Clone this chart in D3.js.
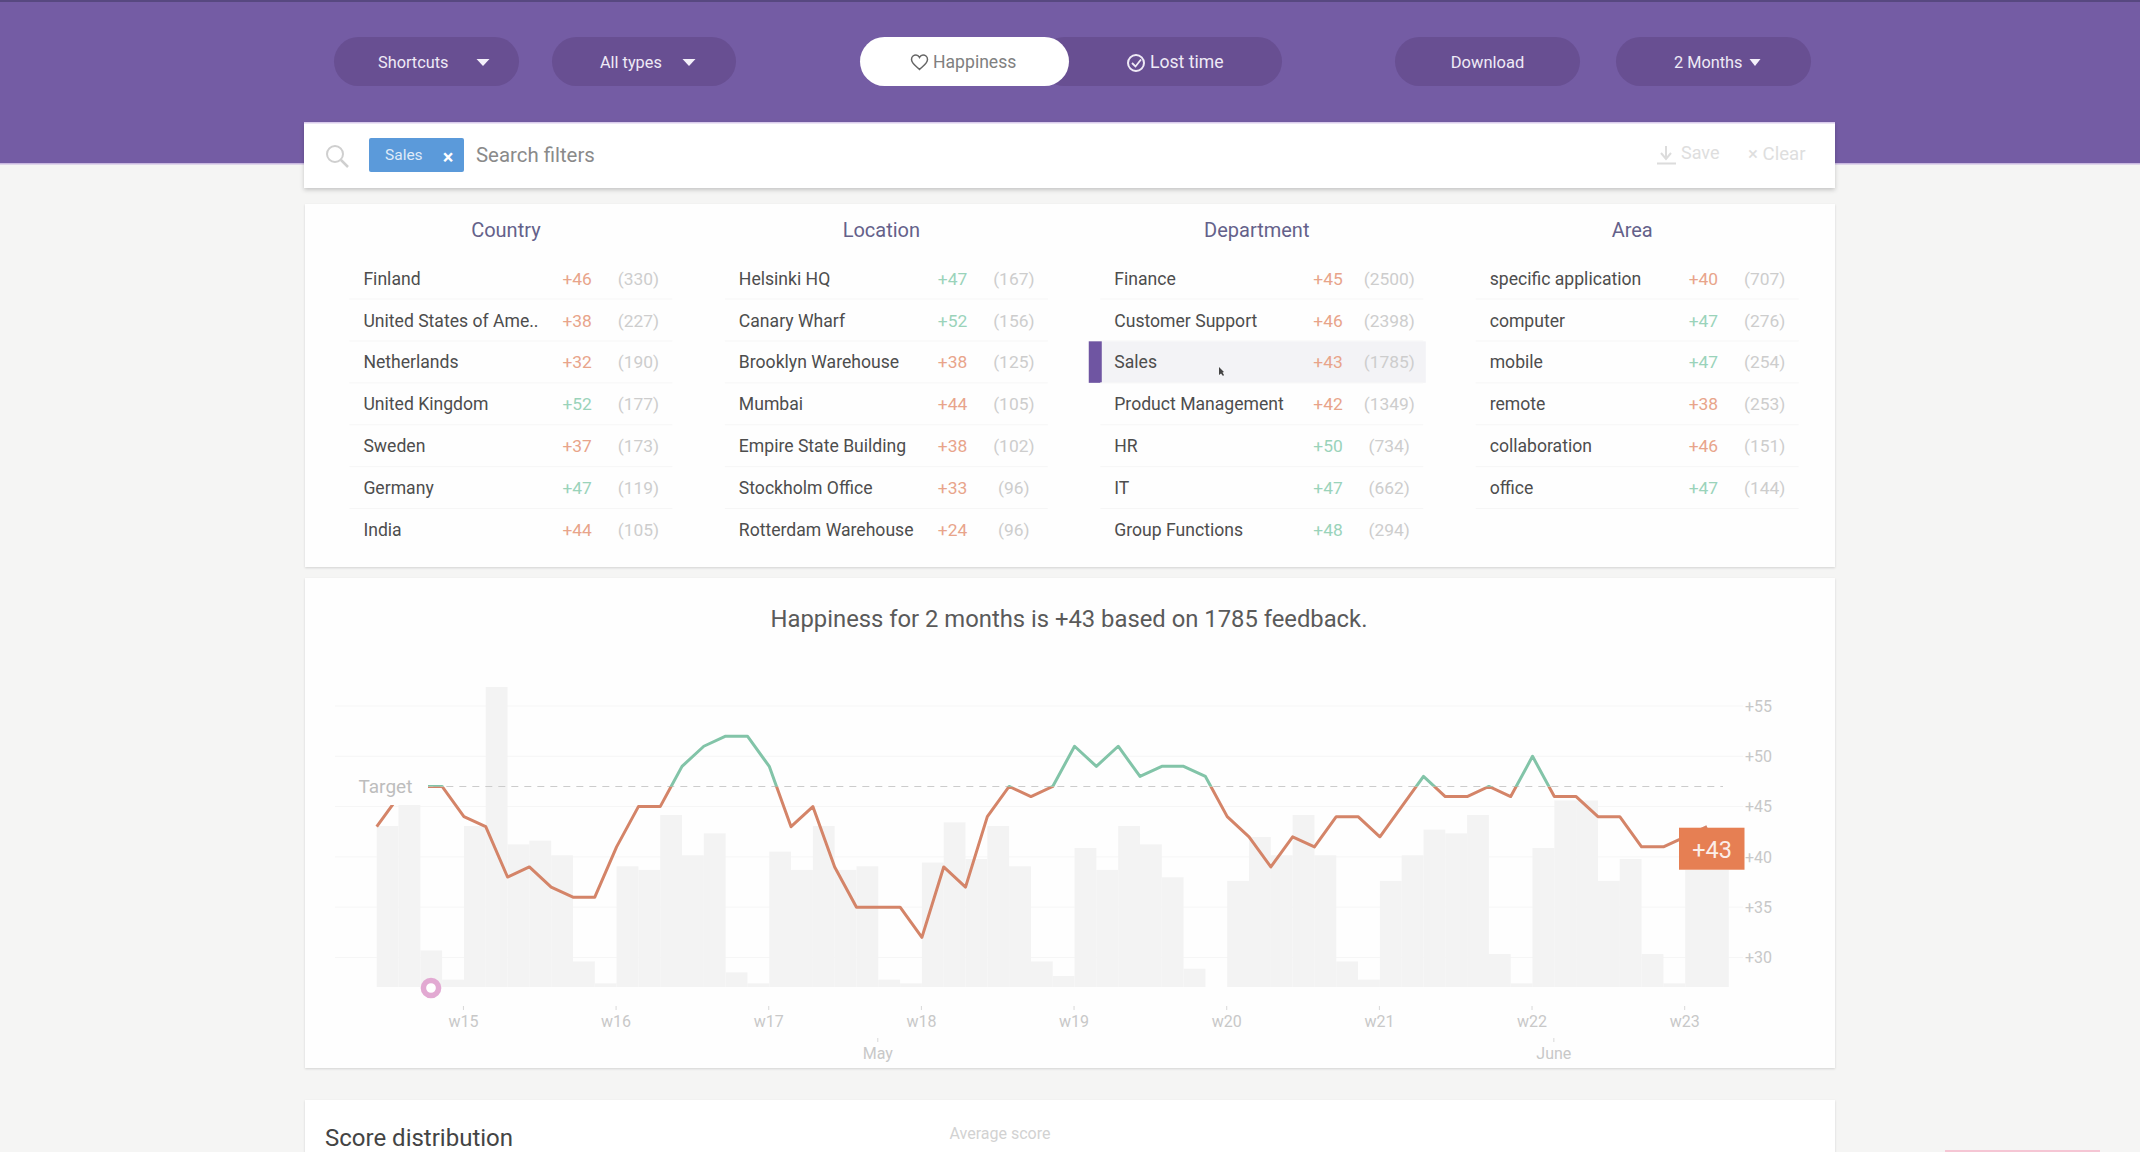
<!DOCTYPE html>
<html>
<head>
<meta charset="utf-8">
<script src="https://cdn.jsdelivr.net/npm/d3@7"></script>
<style>
html,body{margin:0;padding:0;background:#f5f5f4;overflow:hidden}
svg{display:block}
text{font-family:Roboto,"Noto Sans",sans-serif}
</style>
</head>
<body>
<script>
// ---------- DATA ----------
const dailyHappiness = [43,46,47,47,44,43,38,39,37,36,36,41,45,45,49,51,52,52,49,43,45,39,35,35,35,32,39,37,44,47,46,47,51,49,51,48,49,49,48,44,42,39,42,41,44,44,42,45,48,46,46,47,46,50,46,46,44,44,41,41,42,43];
const dailyFeedback = [44,50,10,2,44,82,39,40,36,7,1,33,32,47,36,42,4,1,37,32,44,32,33,2,1,34,45,35,44,33,7,3,38,32,44,39,30,5,0,29,41,36,47,36,7,2,29,36,43,42,47,9,1,38,51,51,29,35,9,1,32,32];
const firstDay = new Date(Date.UTC(2021,3,8));
const targetValue = 47;
const happinessTicks = [30,35,40,45,50,55];
const currentScore = 43;
const titleText = "Happiness for 2 months is +43 based on 1785 feedback.";

const groupTitles = ["Country","Location","Department","Area"];
const countryNames = ["Finland","United States of Ame..","Netherlands","United Kingdom","Sweden","Germany","India"];
const countryScores = [46,38,32,52,37,47,44];
const countryCounts = [330,227,190,177,173,119,105];
const locationNames = ["Helsinki HQ","Canary Wharf","Brooklyn Warehouse","Mumbai","Empire State Building","Stockholm Office","Rotterdam Warehouse"];
const locationScores = [47,52,38,44,38,33,24];
const locationCounts = [167,156,125,105,102,96,96];
const departmentNames = ["Finance","Customer Support","Sales","Product Management","HR","IT","Group Functions"];
const departmentScores = [45,46,43,42,50,47,48];
const departmentCounts = [2500,2398,1785,1349,734,662,294];
const areaNames = ["specific application","computer","mobile","remote","collaboration","office"];
const areaScores = [40,47,47,38,46,47];
const areaCounts = [707,276,254,253,151,144];

// ---------- PAGE ----------
const W = 2140, H = 1152;
const svg = d3.select("body").append("svg").attr("width",W).attr("height",H);
const defs = svg.append("defs");
function shadow(id,dy,sd,op){
  defs.append("filter").attr("id",id).attr("x","-5%").attr("y","-20%").attr("width","110%").attr("height","140%")
    .append("feDropShadow").attr("dx",0).attr("dy",dy).attr("stdDeviation",sd).attr("flood-color","#000").attr("flood-opacity",op);
}
shadow("cardShadow",1,1.2,0.14);
shadow("barShadow",2,2,0.2);

function label(g,str,x,y,size,fill,anchor,weight){
  return g.append("text").attr("x",x).attr("y",y).attr("dy","0.35em")
    .attr("font-size",size).attr("fill",fill).attr("text-anchor",anchor||"start")
    .attr("font-weight",weight||400).text(str);
}

// page background
svg.append("rect").attr("width",W).attr("height",H).attr("fill","#f5f5f4");

// header band
const header = svg.append("g");
header.append("rect").attr("width",W).attr("height",163).attr("fill","#745ca4");
header.append("rect").attr("width",W).attr("height",2).attr("fill","#574880");
header.append("rect").attr("y",163).attr("width",W).attr("height",1.5).attr("fill","#c9b8e0");

function pill(x0,x1,fill){
  header.append("rect").attr("x",x0).attr("y",37).attr("width",x1-x0).attr("height",49).attr("rx",24.5).attr("fill",fill);
}
function caret(cx,w){
  header.append("path").attr("d",`M${cx-w/2},59 L${cx+w/2},59 L${cx},66 Z`).attr("fill","#f4f0fa");
}
const pillDark = "#684f92", pillText = "#efeaf6";
pill(334,519,pillDark); label(header,"Shortcuts",378,62,16.3,pillText); caret(483,13);
pill(552,736,pillDark); label(header,"All types",600,62,16.3,pillText); caret(689,13);
pill(1040,1282,pillDark);
pill(860,1069,"#ffffff");
// heart icon
header.append("path").attr("transform","translate(919.5,62)")
  .attr("d","M0,7.5 C-3,4.5 -8,1.5 -8,-2.5 C-8,-5.5 -5.5,-7 -3.5,-7 C-2,-7 -0.8,-6 0,-4.6 C0.8,-6 2,-7 3.5,-7 C5.5,-7 8,-5.5 8,-2.5 C8,1.5 3,4.5 0,7.5 Z")
  .attr("fill","none").attr("stroke","#666").attr("stroke-width",1.5);
label(header,"Happiness",933,62,17.6,"#808080");
// check-circle icon
header.append("circle").attr("cx",1136).attr("cy",63).attr("r",8).attr("fill","none").attr("stroke",pillText).attr("stroke-width",2);
header.append("path").attr("d","M1132,63 L1135.5,66.5 L1141,59.5").attr("fill","none").attr("stroke",pillText).attr("stroke-width",1.8);
label(header,"Lost time",1150,62,17.6,pillText);
pill(1395,1580,pillDark); label(header,"Download",1487.5,62,16.5,pillText,"middle");
pill(1616,1811,pillDark); label(header,"2 Months",1674,62,16.3,pillText); caret(1755,11);

// search bar
const search = svg.append("g");
search.append("rect").attr("x",304).attr("y",122).attr("width",1531).attr("height",66).attr("fill","#fff").attr("filter","url(#barShadow)");
search.append("rect").attr("x",304).attr("y",122).attr("width",1531).attr("height",1.5).attr("fill","#d9cbec");
search.append("circle").attr("cx",335).attr("cy",154).attr("r",8).attr("fill","none").attr("stroke","#cfcfcf").attr("stroke-width",2);
search.append("line").attr("x1",341).attr("y1",160).attr("x2",348).attr("y2",167).attr("stroke","#cfcfcf").attr("stroke-width",2.5);
search.append("rect").attr("x",369).attr("y",138).attr("width",95).attr("height",34).attr("rx",2).attr("fill","#5b9ada");
label(search,"Sales",385,155,15.5,"#dfeaf8");
label(search,"×",448,157,20,"#fff","middle",700);
label(search,"Search filters",476,155,20.4,"#8a8a8a");
search.append("path").attr("d","M1666,146 L1666,157 M1661,153 L1666,159 L1671,153 M1657,163.5 L1676,163.5")
  .attr("fill","none").attr("stroke","#dcdcdc").attr("stroke-width",2);
label(search,"Save",1681,153,18,"#dedede");
label(search,"× Clear",1748,153,18.6,"#dedede");

// filter card
svg.append("rect").attr("x",305).attr("y",204).attr("width",1530).attr("height",363).attr("fill","#fefefe").attr("filter","url(#cardShadow)");
const filterCols = [
  {names:countryNames,scores:countryScores,counts:countryCounts},
  {names:locationNames,scores:locationScores,counts:locationCounts},
  {names:departmentNames,scores:departmentScores,counts:departmentCounts},
  {names:areaNames,scores:areaScores,counts:areaCounts}
];
const rowY = d3.scaleLinear().domain([0,6]).range([278.5,530]);
const colX = d3.scaleLinear().domain([0,3]).range([363.4,1489.7]);
const selectedGroup = 2, selectedRow = 2;
const colG = svg.append("g");
filterCols.forEach((col,c)=>{
  const x0 = colX(c);
  label(colG,groupTitles[c],x0+142.5,230,20,"#64618a","middle");
  col.names.forEach((n,r)=>{
    const y = rowY(r);
    if(c===selectedGroup && r===selectedRow){
      colG.append("rect").attr("x",x0-25.5).attr("y",y-21).attr("width",337).attr("height",41.5).attr("fill","#f3f3f6");
      colG.append("rect").attr("x",x0-25.5).attr("y",y-21).attr("width",13).attr("height",41.5).attr("fill","#6f55a2");
    }
    if(r<6) colG.append("line").attr("x1",x0-14).attr("x2",x0+309).attr("y1",y+20.5).attr("y2",y+20.5).attr("stroke","#f6f6f6");
    label(colG,n,x0,y,17.6,"#4d4d4d");
    const s = col.scores[r];
    label(colG,"+"+s,x0+199,y,17.4,s>=targetValue?"#9ad3ba":"#e8a48a");
    label(colG,"("+col.counts[r]+")",x0+275,y,17.4,"#cdcdcd","middle");
  });
});
// pointer
colG.append("path").attr("d","M1219,367 L1219,375 L1221,373.5 L1223,376 L1224,375 L1222.5,372.5 L1224,372 Z").attr("fill","#444");

// chart card
svg.append("rect").attr("x",305).attr("y",578).attr("width",1530).attr("height",490).attr("fill","#fefefe").attr("filter","url(#cardShadow)");
const chart = svg.append("g");
label(chart,titleText,1069,619,23.8,"#5a5a5a","middle");

const dates = dailyHappiness.map((_,i)=>d3.utcDay.offset(firstDay,i));
const lastDate = dates[dates.length-1];
const x = d3.scaleUtc().domain([firstDay,lastDate]).range([376.7,1707]);
const y = d3.scaleLinear().domain([30,55]).range([957.5,706]);
const yBar = d3.scaleLinear().domain([0,82]).range([987,687]);

// grid
chart.append("g").selectAll("line").data(happinessTicks).join("line")
  .attr("x1",335).attr("x2",1743).attr("y1",d=>y(d)).attr("y2",d=>y(d)).attr("stroke","#f6f6f6");

// bars
chart.append("g").selectAll("rect").data(dailyFeedback).join("rect")
  .attr("x",(d,i)=>x(dates[i]))
  .attr("width",(d,i)=>x(d3.utcDay.offset(dates[i],1))-x(dates[i]))
  .attr("y",d=>yBar(d)).attr("height",d=>yBar(0)-yBar(d)).attr("fill","#f3f3f3");

// target dashed line
chart.append("line").attr("x1",x(dates[2])).attr("x2",1723).attr("y1",y(targetValue)).attr("y2",y(targetValue))
  .attr("stroke","#cccccc").attr("stroke-width",1.2).attr("stroke-dasharray","7 6");

// coloured line split at target
defs.append("clipPath").attr("id","above").append("rect").attr("x",300).attr("y",600).attr("width",1500).attr("height",y(targetValue)-600);
defs.append("clipPath").attr("id","below").append("rect").attr("x",300).attr("y",y(targetValue)).attr("width",1500).attr("height",400);
const lineGen = d3.line().x((d,i)=>x(dates[i])).y(d=>y(d));
chart.append("path").datum(dailyHappiness).attr("d",lineGen).attr("fill","none").attr("stroke","#d48468").attr("stroke-width",3).attr("stroke-linejoin","round").attr("clip-path","url(#below)");
chart.append("path").datum(dailyHappiness).attr("d",lineGen).attr("fill","none").attr("stroke","#82c4a8").attr("stroke-width",3).attr("stroke-linejoin","round").attr("clip-path","url(#above)");

// Target label with knock-out background
chart.append("rect").attr("x",355).attr("y",767).attr("width",73).attr("height",38).attr("fill","#fefefe");
label(chart,"Target",358.5,786,19,"#bdbdbd");

// marker on baseline
chart.append("circle").attr("cx",431).attr("cy",988).attr("r",7.6).attr("fill","#fff").attr("stroke","#e2a9d2").attr("stroke-width",5.5);

// axes
const axisWeek = d3.axisBottom(x).tickValues(d3.utcMonday.range(firstDay,d3.utcDay.offset(lastDate,1)))
  .tickFormat(d3.utcFormat("w%V")).tickSize(4).tickPadding(6);
const gW = chart.append("g").attr("transform","translate(-1,1006)").call(axisWeek);
const axisMonth = d3.axisBottom(x).tickValues(d3.utcMonth.range(firstDay,lastDate))
  .tickFormat(d=>d3.utcFormat("%B")(d)).tickSize(4).tickPadding(6);
const gM = chart.append("g").attr("transform","translate(-1,1038)").call(axisMonth);
const axisY = d3.axisRight(y).tickValues(happinessTicks).tickFormat(d=>"+"+d).tickSize(0).tickPadding(0);
const gY = chart.append("g").attr("transform","translate(1745,0)").call(axisY);
[gW,gM,gY].forEach(g=>{
  g.select(".domain").remove();
  g.selectAll(".tick line").attr("stroke","#d8d8d8");
  g.selectAll(".tick text").attr("font-size",16).attr("fill","#c8c8c8").style("font-family","Roboto,sans-serif");
});

// current value flag
const flagX = x(lastDate)-28, flagY = y(currentScore)+1;
chart.append("rect").attr("x",flagX).attr("y",flagY).attr("width",65.5).attr("height",42).attr("fill","#e67f53");
label(chart,"+"+currentScore,flagX+33,flagY+22,23.5,"#fbeee8","middle");

// next card (cut by the window)
svg.append("rect").attr("x",305).attr("y",1100).attr("width",1530).attr("height",70).attr("fill","#fff").attr("filter","url(#cardShadow)");
label(svg,"Score distribution",325,1138,24,"#444");
label(svg,"Average score",1000,1133,16,"#d2d2d2","middle");
svg.append("rect").attr("x",1945).attr("y",1150).attr("width",155).attr("height",2).attr("fill","#f5c6d4");
</script>
</body>
</html>
